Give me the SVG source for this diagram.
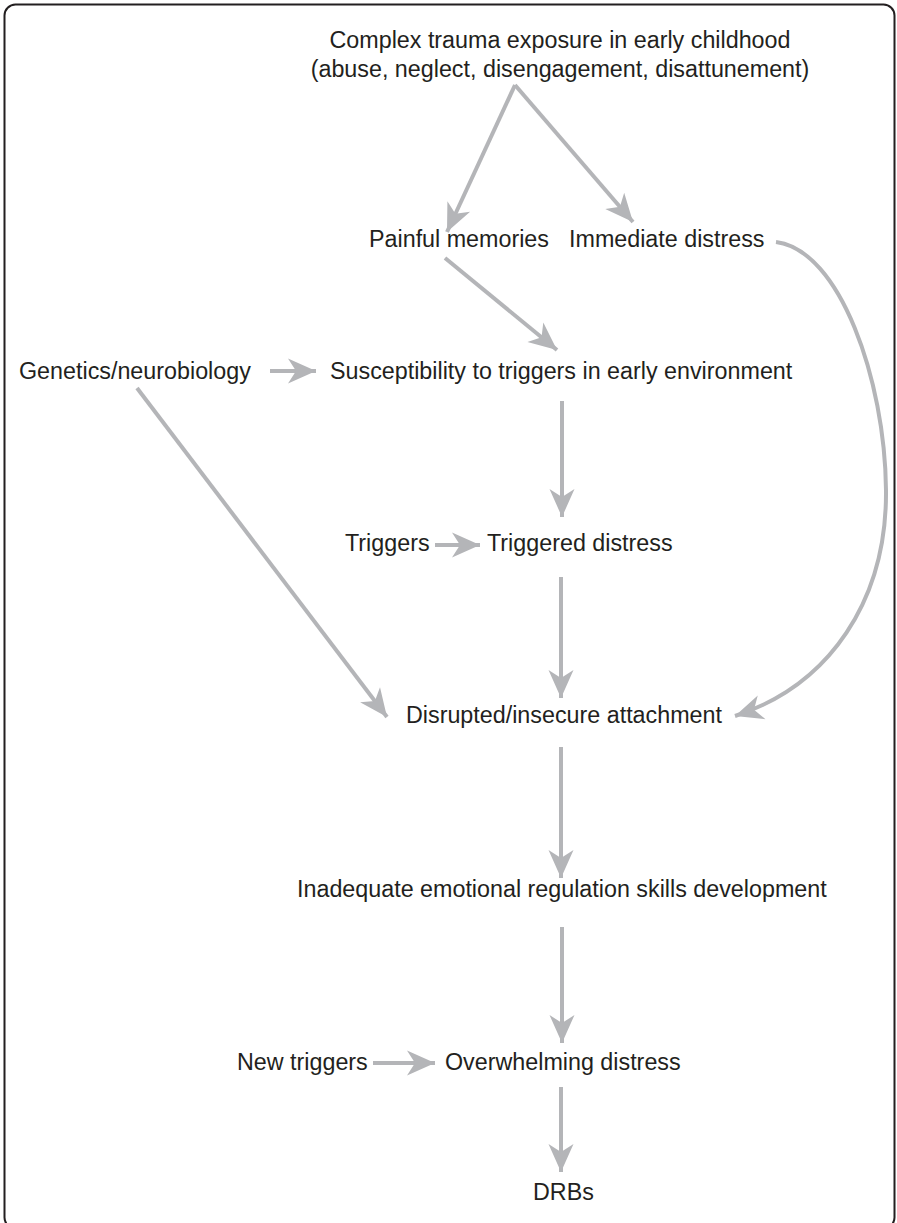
<svg xmlns="http://www.w3.org/2000/svg" width="897" height="1223" viewBox="0 0 897 1223">
<defs>
<style>
text{font-family:"Liberation Sans",Arial,Helvetica,sans-serif;font-size:23.3px;fill:#231f20}
.c{fill:none;stroke:#b4b5b8;stroke-width:4}
</style>
<marker id="ah" markerUnits="userSpaceOnUse" viewBox="-29 -14 30 28" refX="0" refY="0" markerWidth="30" markerHeight="28" orient="auto">
<path d="M0,0 L-28,-12.5 L-20,0 L-28,12.5 Z" fill="#b4b5b8"/>
</marker>
</defs>
<rect x="4.5" y="4.5" width="890" height="1224" rx="11" fill="#fff" stroke="#231f20" stroke-width="2"/>
<g id="connectors">
<path class="c" marker-end="url(#ah)" d="M515,85 L447,232"/>
<path class="c" marker-end="url(#ah)" d="M515,85 L633,222"/>
<path class="c" marker-end="url(#ah)" d="M445,258 L557,350"/>
<path class="c" marker-end="url(#ah)" d="M776,242 C840,250 885,380 886,490 C887,600 830,685 735,716"/>
<path class="c" marker-end="url(#ah)" d="M270,371 L316,371"/>
<path class="c" marker-end="url(#ah)" d="M137,388 L387,717"/>
<path class="c" marker-end="url(#ah)" d="M562,401 L562,517"/>
<path class="c" marker-end="url(#ah)" d="M435,545 L480,545"/>
<path class="c" marker-end="url(#ah)" d="M561,577 L561,698"/>
<path class="c" marker-end="url(#ah)" d="M561,747 L561,878"/>
<path class="c" marker-end="url(#ah)" d="M562,927 L562,1043"/>
<path class="c" marker-end="url(#ah)" d="M373,1063 L435,1063"/>
<path class="c" marker-end="url(#ah)" d="M561,1087 L561,1172"/>
</g>
<g id="trauma"><text x="560" y="48" text-anchor="middle">Complex trauma exposure in early childhood</text><text x="560" y="77" text-anchor="middle">(abuse, neglect, disengagement, disattunement)</text></g>
<g id="painful"><text x="369" y="247">Painful memories</text></g>
<g id="immediate"><text x="569" y="247">Immediate distress</text></g>
<g id="genetics"><text x="19" y="379">Genetics/neurobiology</text></g>
<g id="susceptibility"><text x="330" y="379">Susceptibility to triggers in early environment</text></g>
<g id="triggers"><text x="345" y="551">Triggers</text></g>
<g id="triggered"><text x="487" y="551">Triggered distress</text></g>
<g id="disrupted"><text x="406" y="723">Disrupted/insecure attachment</text></g>
<g id="inadequate"><text x="297" y="897">Inadequate emotional regulation skills development</text></g>
<g id="newtriggers"><text x="237" y="1070">New triggers</text></g>
<g id="overwhelming"><text x="445" y="1070">Overwhelming distress</text></g>
<g id="drbs"><text x="533" y="1200">DRBs</text></g>
</svg>
